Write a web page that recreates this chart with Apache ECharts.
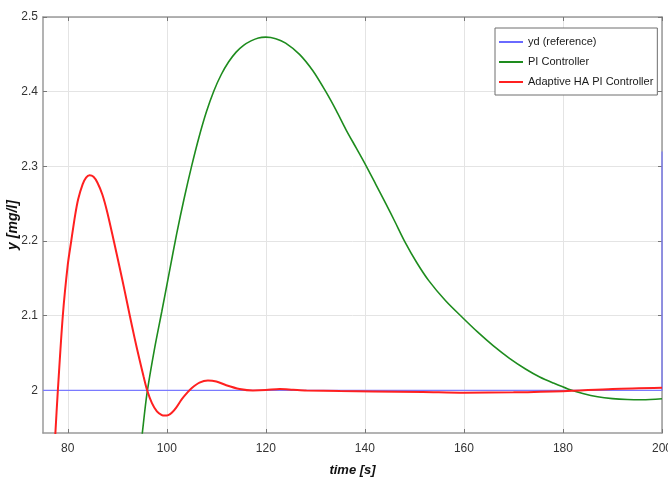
<!DOCTYPE html>
<html>
<head>
<meta charset="utf-8">
<script src="https://cdn.jsdelivr.net/npm/echarts@6/dist/echarts.min.js"></script>
<style>
html,body{margin:0;padding:0;background:#fff;}
#c{width:668px;height:480px;}
</style>
</head>
<body>
<div id="c"></div>
<script>
// ---- data ----
var seriesNames = ['yd (reference)', 'PI Controller', 'Adaptive HA PI Controller'];
var xTicks = [80, 100, 120, 140, 160, 180, 200];
var yTicks = [2, 2.1, 2.2, 2.3, 2.4, 2.5];

var refT = [75, 200, 200];
var refY = [2, 2, 2.32];

var piT = [94.7, 95.06, 96.0, 97.5, 99.0, 100.5, 102.0, 103.5, 105.0, 106.5, 108.0, 109.5, 111.0, 112.5, 114.0, 115.5, 117.0, 118.5, 120.0, 122.0, 124.0, 126.8, 129.5, 132.2, 134.2, 136.2, 138.3, 140.3, 142.2, 144.2, 146.1, 148.0, 150.4, 152.9, 156.3, 159.8, 162.8, 165.9, 169.2, 172.6, 175.3, 178.0, 181.0, 184.0, 187.0, 190.0, 193.0, 196.0, 200.0];
var piY = [1.92, 1.943, 1.996, 2.055, 2.106, 2.158, 2.21, 2.257, 2.3, 2.339, 2.373, 2.401, 2.423, 2.44, 2.453, 2.462, 2.468, 2.472, 2.473, 2.471, 2.465, 2.45, 2.428, 2.399, 2.375, 2.349, 2.324, 2.3, 2.276, 2.2505, 2.2255, 2.2, 2.172, 2.147, 2.12, 2.097, 2.078, 2.06, 2.043, 2.028, 2.018, 2.01, 2.002, 1.996, 1.9915, 1.989, 1.9878, 1.9875, 1.9889];

var hapiT = [77.2, 77.5, 78.0, 79.0, 80.0, 80.7, 81.5, 82.1, 83.0, 83.7, 84.4, 85.2, 86.0, 87.0, 88.0, 89.3, 90.5, 91.5, 92.5, 93.5, 94.5, 95.3, 96.0, 97.0, 98.0, 99.0, 99.6, 100.3, 101.0, 101.9, 103.0, 104.0, 105.0, 106.6, 108.3, 110.0, 112.0, 114.7, 117.4, 120.0, 122.8, 125.5, 128.2, 135.0, 141.6, 151.7, 160.0, 170.0, 180.0, 190.0, 200.0];
var hapiY = [1.905, 1.943, 2.0, 2.1, 2.168, 2.2, 2.235, 2.256, 2.276, 2.285, 2.288, 2.286, 2.278, 2.262, 2.238, 2.2, 2.164, 2.133, 2.101, 2.07, 2.041, 2.019, 2.001, 1.983, 1.972, 1.967, 1.9663, 1.967, 1.970, 1.977, 1.988, 1.996, 2.003, 2.0105, 2.0134, 2.012, 2.007, 2.002, 2.0, 2.0005, 2.002, 2.001, 2.0, 1.9991, 1.9987, 1.998, 1.997, 1.9975, 1.999, 2.002, 2.0036];

function zip(a, b) { return a.map(function (v, i) { return [v, b[i]]; }); }

var FONT = '"Liberation Sans", Arial, sans-serif';
var frame = '#9a9a9a';

var chart = echarts.init(document.getElementById('c'), null, {renderer: 'canvas'});
chart.setOption({
  animation: false,
  backgroundColor: '#ffffff',
  grid: {left: 43, top: 17, right: 6, bottom: 47, containLabel: false, outerBoundsMode: 'none'},
  legend: {
    orient: 'vertical',
    left: 495, top: 28,
    data: seriesNames,
    icon: 'rect',
    itemWidth: 24, itemHeight: 2,
    itemGap: 6,
    padding: [7, 4, 6, 4],
    borderColor: '#6e6e6e', borderWidth: 1,
    backgroundColor: '#ffffff',
    textStyle: {fontFamily: FONT, fontSize: 11, color: '#1a1a1a', lineHeight: 14}
  },
  xAxis: [{
    type: 'value', position: 'bottom', min: 75, max: 200,
    name: 'time [s]', nameLocation: 'middle', nameGap: 31, nameMoveOverlap: false,
    nameTextStyle: {fontFamily: FONT, fontSize: 13, fontWeight: 'bold', fontStyle: 'italic', color: '#111'},
    axisLine: {show: true, onZero: false, lineStyle: {color: frame, width: 1.5}},
    axisTick: {show: true, inside: true, length: 4, customValues: xTicks, lineStyle: {color: '#777'}},
    axisLabel: {customValues: xTicks, margin: 10, fontFamily: FONT, fontSize: 12, color: '#333'},
    splitLine: {show: true, lineStyle: {color: '#e4e4e4', width: 1}}
  }, {
    type: 'value', position: 'top', min: 75, max: 200,
    axisLine: {show: true, onZero: false, lineStyle: {color: frame, width: 1.5}},
    axisTick: {show: true, inside: true, length: 4, customValues: xTicks, lineStyle: {color: '#777'}},
    axisLabel: {show: false},
    splitLine: {show: false}
  }],
  yAxis: [{
    type: 'value', position: 'left', min: 1.943, max: 2.5,
    name: 'y [mg/l]', nameLocation: 'middle', nameGap: 23, nameRotate: 90, nameMoveOverlap: false,
    nameTextStyle: {fontFamily: FONT, fontSize: 14, fontWeight: 'bold', fontStyle: 'italic', color: '#111'},
    axisLine: {show: true, onZero: false, lineStyle: {color: frame, width: 1.5}},
    axisTick: {show: true, inside: true, length: 4, customValues: yTicks, lineStyle: {color: '#777'}},
    axisLabel: {customValues: yTicks, margin: 5, fontFamily: FONT, fontSize: 12, color: '#333',
      formatter: function (v) { return String(Math.round(v * 10) / 10); }},
    splitLine: {show: true, lineStyle: {color: '#e4e4e4', width: 1}}
  }, {
    type: 'value', position: 'right', min: 1.943, max: 2.5,
    axisLine: {show: true, onZero: false, lineStyle: {color: frame, width: 1.5}},
    axisTick: {show: true, inside: true, length: 4, customValues: yTicks, lineStyle: {color: '#777'}},
    axisLabel: {show: false},
    splitLine: {show: false}
  }],
  series: [{
    name: seriesNames[0], type: 'line', data: zip(refT, refY),
    showSymbol: false, symbol: 'none',
    lineStyle: {color: '#7a7aff', width: 1.2}, itemStyle: {color: '#6a6aff'}
  }, {
    name: seriesNames[1], type: 'line', data: zip(piT, piY),
    showSymbol: false, symbol: 'none', smooth: 0.3,
    lineStyle: {color: '#1e8c1e', width: 1.6}, itemStyle: {color: '#1e8c1e'}
  }, {
    name: seriesNames[2], type: 'line', data: zip(hapiT, hapiY),
    showSymbol: false, symbol: 'none', smooth: 0.3,
    lineStyle: {color: '#ff2020', width: 2}, itemStyle: {color: '#ff2020'}
  }]
});
</script>
</body>
</html>
